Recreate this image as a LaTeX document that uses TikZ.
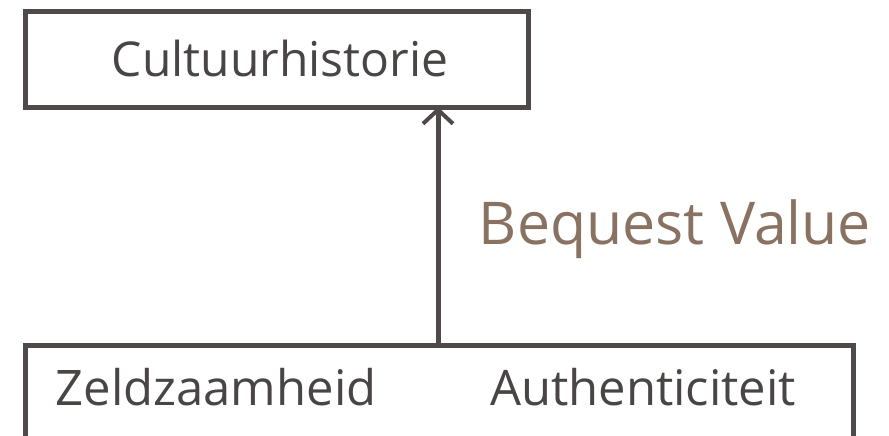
\documentclass[tikz,border=0pt]{standalone}
\usepackage{fontspec}
\setmainfont{Open Sans}
\usetikzlibrary{arrows.meta}
\definecolor{linegray}{HTML}{4F4949}
\definecolor{textgray}{HTML}{4A4545}
\definecolor{labelbrown}{HTML}{8A7262}
\begin{document}
\begin{tikzpicture}[x=1pt,y=-1pt,
  frame/.style={draw=linegray,line width=5pt},
  boxtext/.style={text=textgray,inner sep=0pt,anchor=base},
  link/.style={draw=linegray,line width=5pt,-{Straight Barb[length=14pt,width=30pt,line width=4pt]}}]
\useasboundingbox (0,0) rectangle (889,436);
% upper box
\draw[frame] (25,12) rectangle (528,107);
\node[boxtext,font=\fontsize{48}{56}\selectfont] (top) at (280,77) {Cultuurhistorie};
\coordinate (topin) at (438,107);
% lower box, open at the bottom edge
\draw[frame] (25,460) -- (25,345) -- (853,345) -- (853,460);
\coordinate (botout) at (438,345);
\node[boxtext,font=\fontsize{49}{57}\selectfont] (z) at (216,405) {Zeldzaamheid};
\node[boxtext,font=\fontsize{49}{57}\selectfont] (a) at (643,405) {Authenticiteit};
% connector
\draw[link] (botout) -- (topin);
\node[text=labelbrown,font=\fontsize{59}{67}\selectfont,inner sep=0pt,anchor=base] (bv) at (675,244) {Bequest Value};
\end{tikzpicture}
\end{document}
